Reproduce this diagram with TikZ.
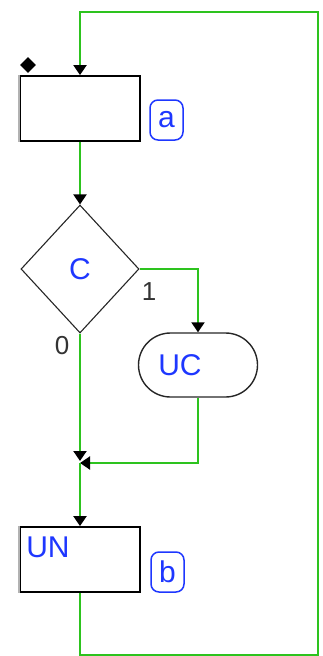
\documentclass[tikz,border=0pt]{standalone}
\usepackage{fontspec}
\setmainfont{Liberation Sans}
\usetikzlibrary{shapes.geometric,shapes.misc,arrows.meta}
\definecolor{wire}{RGB}{45,195,30}
\definecolor{txtblue}{RGB}{30,55,255}
\begin{document}
\begin{tikzpicture}[x=1pt,y=-1pt,
  stepbox/.style={draw=black,line width=1.8pt,fill=white,minimum width=120pt,minimum height=65pt,inner sep=0pt},
  cond/.style={draw=black!85,line width=1.1pt,diamond,minimum width=118pt,minimum height=128pt,inner sep=0pt,text=txtblue,font=\fontsize{30}{30}\selectfont},
  act/.style={draw=black!85,line width=1.4pt,rounded rectangle,minimum width=119pt,minimum height=64pt,inner sep=0pt,text=txtblue,font=\fontsize{30}{30}\selectfont},
  tag/.style={draw=txtblue,line width=1.5pt,rounded corners=8pt,minimum width=33pt,minimum height=40pt,inner sep=0pt,text=txtblue,font=\fontsize{30}{30}\selectfont},
  digit/.style={text=black!80,inner sep=0pt,font=\fontsize{26}{26}\selectfont},
  wire/.style={draw=wire,line width=2pt},
  tip/.style={-{Triangle[width=13pt,length=10pt,color=black,fill=black]}}]
\useasboundingbox (0,0) rectangle (322,656);

% nodes
\node[stepbox] (a) at (80,108.5) {};
\draw[gray!60,line width=1.8pt] (a.south west) -- (a.north west);
\node[diamond,fill=black,minimum size=16pt,inner sep=0pt] (start) at (28,65) {};
\node[tag] (la) at (166.5,120) {a};

\node[cond] (c) at (80,269) {C};
\node[digit] (one) at (149,292) {1};
\node[digit] (zero) at (62,346) {0};

\node[act] (uc) at (198,365) {UC\hspace*{36pt}};

\node[stepbox,label={[anchor=north west,inner sep=0pt,xshift=7pt,yshift=-11pt,text=txtblue,font=\fontsize{30}{30}\selectfont]north west:UN}] (b) at (80,559.5) {};
\draw[gray!60,line width=1.8pt] (b.south west) -- (b.north west);
\node[tag] (lb) at (167.5,572) {b};

% coordinates
\coordinate (j) at (80,463);
\coordinate (br) at (318,655);
\coordinate (tr) at (318,12);

% connectors
\draw[wire,tip] (a.south) -- (c.north);
\draw[wire,tip] (c.east) -| (uc.north);
\draw[wire,tip,shorten >=2pt] (c.south) -- (j);
\draw[wire,tip] (uc.south) |- (j);
\draw[wire,tip] (j) -- (b.north);
\draw[wire,tip] (b.south) |- (br) -- (tr) -| (a.north);
\end{tikzpicture}
\end{document}
